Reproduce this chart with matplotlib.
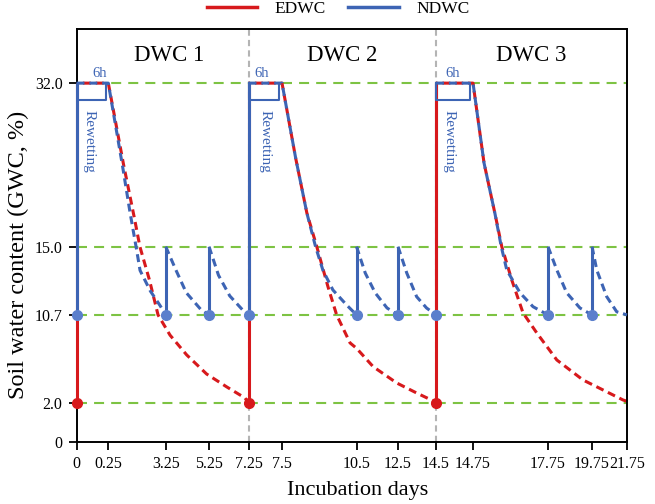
import numpy as np
import matplotlib
matplotlib.use("Agg")
import matplotlib.pyplot as plt
from matplotlib.lines import Line2D

plt.rcParams['font.family'] = ['Liberation Serif', 'DejaVu Serif']

# ---------------------------------------------------------------
# data (days, GWC %)
# ---------------------------------------------------------------
x_ticks = [0, 0.25, 3.25, 5.25, 7.25, 7.5, 10.5, 12.5, 14.5, 14.75, 17.75, 19.75, 21.75]
x_tick_labels = ['0', '0.25', '3.25', '5.25', '7.25', '7.5', '10.5', '12.5', '14.5',
                 '14.75', '17.75', '19.75', '21.75']
y_ticks = [0, 2.0, 10.7, 15.0, 32.0]
y_tick_labels = ['0', '2.0', '10.7', '15.0', '32.0']
cycle_labels = ['DWC 1', 'DWC 2', 'DWC 3']

cycle_start = [0, 7.25, 14.5]          # extreme rewetting days
ndwc_rewet = [3.25, 5.25, 10.5, 12.5, 17.75, 19.75]   # small rewetting days
ndwc_dots = [0, 3.25, 5.25, 7.25, 10.5, 12.5, 14.5, 17.75, 19.75]
gwc_max, gwc_mid, gwc_low, gwc_min = 32.0, 15.0, 10.7, 2.0

# EDWC drying curves
edwc_days_1 = [0, 0.25, 1.05, 1.63, 1.9, 2.4, 2.85, 3.45, 4.22, 5.14, 6.15, 7.07, 7.25]
edwc_gwc_1 = [32, 32, 23.5, 17.8, 15.0, 12.9, 10.7, 8.7, 6.74, 4.85, 3.57, 2.48, 2.0]
edwc_days_2 = [7.25, 7.5, 8.05, 8.5, 8.9, 9.35, 9.7, 10.24, 10.5, 11.3, 12.44, 13.48, 14.45, 14.5]
edwc_gwc_2 = [32, 32, 24.2, 18.5, 15.0, 12.48, 10.7, 7.93, 7.4, 5.58, 3.96, 2.97, 2.1, 2.0]
edwc_days_3 = [14.5, 14.75, 15.19, 15.63, 15.9, 16.3, 16.75, 17.3, 18.15, 19.34, 20.38, 21.52, 21.75]
edwc_gwc_3 = [32, 32, 23.7, 18.4, 15.0, 12.9, 10.83, 8.92, 6.24, 4.26, 3.27, 2.28, 2.15]

# NDWC drying curves
ndwc_days = [
    [0, 0.25, 1.0, 1.39, 1.7, 1.91, 2.45, 2.95, 3.25],
    [3.25, 3.73, 4.2, 4.9, 5.25],
    [5.25, 5.73, 6.3, 7.0, 7.25],
    [7.25, 7.5, 8.05, 8.5, 8.85, 9.15, 9.55, 10.1, 10.5],
    [10.5, 10.92, 11.4, 11.97, 12.5],
    [12.5, 12.96, 13.48, 14.0, 14.5],
    [14.5, 14.75, 15.19, 15.63, 15.88, 16.1, 16.63, 17.15, 17.75],
    [17.75, 18.15, 18.6, 19.2, 19.75],
    [19.75, 20.02, 20.59, 21.16, 21.75],
]
ndwc_gwc = [
    [32, 32, 23.3, 18.5, 15.0, 13.5, 12.2, 11.3, 10.7],
    [15.0, 13.5, 12.1, 11.0, 10.7],
    [15.0, 13.2, 11.9, 10.95, 10.7],
    [32, 32, 24.2, 18.5, 15.0, 13.5, 12.27, 11.33, 10.7],
    [15.0, 13.34, 12.09, 11.14, 10.7],
    [15.0, 13.34, 11.85, 11.14, 10.7],
    [32, 32, 23.7, 18.4, 15.0, 13.53, 12.09, 11.22, 10.7],
    [15.0, 13.53, 12.09, 11.14, 10.7],
    [15.0, 13.53, 11.85, 10.9, 10.7],
]

# ---------------------------------------------------------------
# broken (schematic) axes: value -> position along the axis
# ---------------------------------------------------------------
x_break_pos = [0, 31.8, 89.2, 132.5, 172, 205.5, 280, 321.5, 359.5, 396.5, 471.5, 515.5, 550.5]
y_break_vals = [0, 2.0, 10.7, 15.0, 32.0, 40.0]
y_break_pos = [0, 39.5, 127.3, 195.6, 359, 435.9]


def fwd_x(v):
    return np.interp(v, x_ticks, x_break_pos)


def inv_x(p):
    return np.interp(p, x_break_pos, x_ticks)


def fwd_y(v):
    return np.interp(v, y_break_vals, y_break_pos)


def inv_y(p):
    return np.interp(p, y_break_pos, y_break_vals)


RED = '#d7191c'
BLUE = '#3d64b4'
DOT_BLUE = '#5b7fcc'
GREEN = '#7dc343'
GRAY = '#b4b4b4'
DASH = (0, (2.6, 1.6))

fig = plt.figure(figsize=(6.55, 5.04), dpi=100)
ax = fig.add_axes([0.1168, 0.1224, 0.8405, 0.8195])
ax.set_xscale('function', functions=(fwd_x, inv_x))
ax.set_yscale('function', functions=(fwd_y, inv_y))
y_top = 37.6
ax.set_xlim(0, 21.75)
ax.set_ylim(0, y_top)

# --- reference lines ---
ax.hlines(y_ticks[1:], 0, 21.75, colors=GREEN, linestyles=(0, (4.8, 3.4)), lw=1.5, zorder=1)
ax.vlines(cycle_start[1:], 0, y_top, colors=GRAY, linestyles=(0, (3.0, 2.0)), lw=1.5, zorder=1)

# --- EDWC ---
for d, g in [(edwc_days_1, edwc_gwc_1), (edwc_days_2, edwc_gwc_2), (edwc_days_3, edwc_gwc_3)]:
    ax.plot(d, g, color=RED, lw=2.2, ls=(2.1, (2.6, 1.6)), zorder=2, clip_on=False)
ax.vlines(cycle_start, gwc_min, gwc_max, colors=RED, lw=2.2, zorder=3, clip_on=False)

# --- NDWC ---
for d, g in zip(ndwc_days, ndwc_gwc):
    ax.plot(d, g, color=BLUE, lw=2.2, ls=DASH, zorder=3.5, clip_on=False)
ax.vlines(cycle_start[:2], gwc_low, gwc_max, colors=BLUE, lw=2.2, zorder=3.5, clip_on=False)
ax.vlines(cycle_start[2:], gwc_low, gwc_max, colors=BLUE, lw=2.2, zorder=1.5)
ax.vlines(ndwc_rewet, gwc_low, gwc_mid, colors=BLUE, lw=2.2, zorder=3.5)

ax.plot(cycle_start, [gwc_min] * 3, 'o', color=RED, ms=7, zorder=4, clip_on=False)
ax.plot(ndwc_dots, [gwc_low] * len(ndwc_dots), 'o', color=DOT_BLUE, ms=7, zorder=4, clip_on=False)

# --- annotations: 6h bracket, rewetting ---
h6_text_x = [0.18, 7.35, 14.61]
rewet_text_x = [0.1, 7.37, 14.59]
for s, tx, rx in zip(cycle_start, h6_text_x, rewet_text_x):
    ax.plot([s, s, s + 0.23, s + 0.23], [gwc_max, 30.2, 30.2, gwc_max], color=BLUE, lw=1.5, zorder=3)
    ax.text(tx, 33.0, '6h', color=BLUE, fontsize=10.5, ha='center', va='center')
    ax.text(rx, 25.9, 'Rewetting', color=BLUE, fontsize=11, rotation=-90,
            ha='center', va='center')

for xf, lab in zip([0.168, 0.482, 0.826], cycle_labels):
    ax.text(xf, 0.937, lab, transform=ax.transAxes, fontsize=16.5, ha='center', va='center')

# --- axes styling ---
ax.set_xticks(x_ticks)
ax.set_xticklabels(x_tick_labels)
ax.set_yticks(y_ticks)
ax.set_yticklabels(y_tick_labels)
ax.minorticks_off()
ax.tick_params(direction='out', length=6, width=1.3, labelsize=11.5, pad=4)
for sp in ax.spines.values():
    sp.set_linewidth(1.4)
    sp.set_zorder(2.5)

fig.text(358 / 655, 1 - 490 / 504, 'Incubation days', fontsize=16, ha='center', va='center')
fig.text(18 / 655, 1 - 255 / 504, 'Soil water content (GWC, %)', fontsize=17.5,
         rotation=90, ha='center', va='center')

handles = [Line2D([], [], color=RED, lw=2.5), Line2D([], [], color=BLUE, lw=2.5)]
fig.legend(handles, ['EDWC', 'NDWC'], loc='center', bbox_to_anchor=(0.516, 0.982),
           ncol=2, frameon=False, fontsize=12.5, handlelength=2.9, handletextpad=1.0,
           columnspacing=1.3)

fig.savefig('out.png', dpi=100)
